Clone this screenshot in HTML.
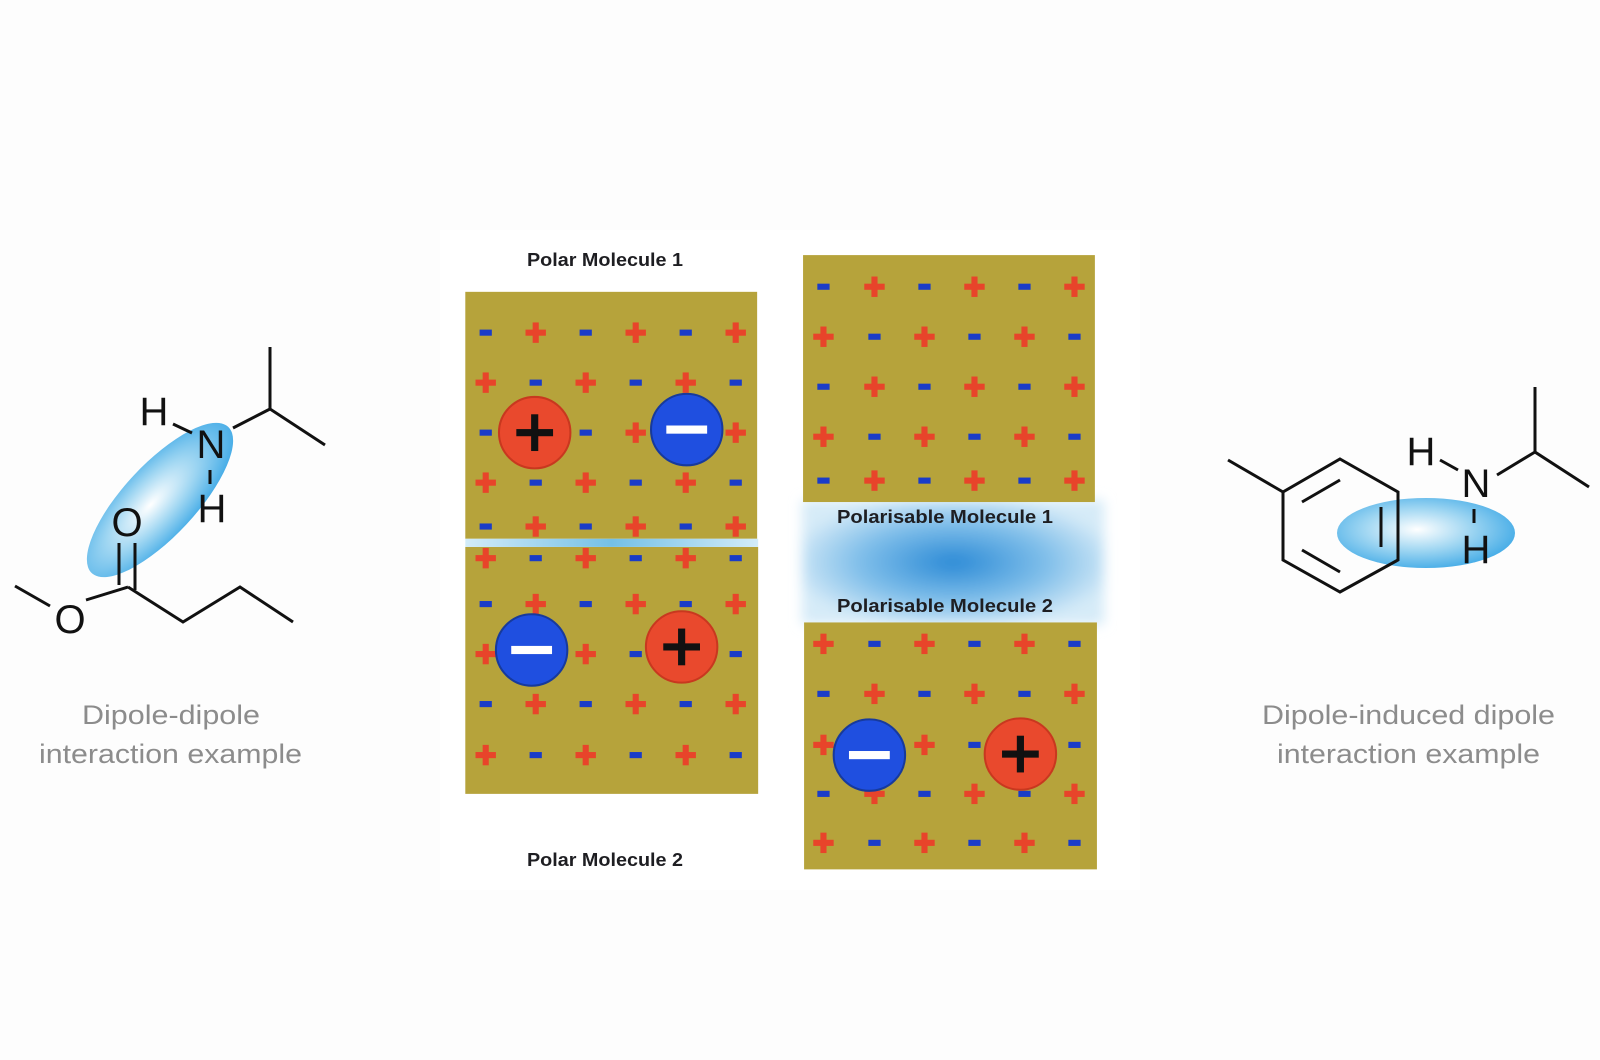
<!DOCTYPE html>
<html><head><meta charset="utf-8"><style>
html,body{margin:0;padding:0;background:#fdfdfd;}
svg{display:block;}
</style></head><body>
<svg width="1600" height="1060" viewBox="0 0 1600 1060" xmlns="http://www.w3.org/2000/svg">
<defs>
  <g id="p"><rect x="-10" y="-3" width="20" height="6" fill="#e8442a"/><rect x="-3" y="-10" width="6" height="20" fill="#e8442a"/></g>
  <g id="m"><rect x="-6" y="-3" width="12" height="6" fill="#1a3cc8"/></g>
  <g id="BP"><circle r="35" fill="#e9492d" stroke="#c8381f" stroke-width="2"/><rect x="-18" y="-3.5" width="36" height="7" fill="#111"/><rect x="-3.5" y="-18" width="7" height="36" fill="#111"/></g>
  <g id="BM"><circle r="35" fill="#1f4fe0" stroke="#173a9c" stroke-width="2"/><rect x="-20" y="-4" width="40" height="8" fill="#fff"/></g>
  <radialGradient id="glow" cx="0.5" cy="0.5" r="0.55">
    <stop offset="0" stop-color="#2b8ad6"/>
    <stop offset="0.55" stop-color="#7dbde9"/>
    <stop offset="1" stop-color="#d6ebf8"/>
  </radialGradient>
  <linearGradient id="line" x1="0" x2="1">
    <stop offset="0" stop-color="#d3ecf8"/><stop offset="0.5" stop-color="#74c0e6"/><stop offset="1" stop-color="#d3ecf8"/>
  </linearGradient>
  <radialGradient id="ell" cx="0.45" cy="0.45" r="0.6">
    <stop offset="0" stop-color="#ffffff"/>
    <stop offset="0.5" stop-color="#9fd6f2"/>
    <stop offset="1" stop-color="#3fa9e6"/>
  </radialGradient>
  <filter id="blur" x="-20%" y="-40%" width="140%" height="180%"><feGaussianBlur stdDeviation="6"/></filter>
</defs>
<rect width="1600" height="1060" fill="#fdfdfd"/>
<rect x="440" y="230" width="700" height="660" fill="#ffffff"/>

<g transform="scale(1.0204)">
  <rect x="786" y="490" width="296" height="122" fill="url(#glow)" filter="url(#blur)"/>
  <rect x="456" y="286" width="286" height="242" fill="#b6a33b"/>
  <rect x="456" y="536" width="287" height="242" fill="#b6a33b"/>
  <rect x="456" y="528" width="287" height="8" fill="url(#line)"/>
  <rect x="787" y="250" width="286" height="242" fill="#b6a33b"/>
  <rect x="788" y="610" width="287" height="242" fill="#b6a33b"/>

  <use href="#m" x="476" y="326"/><use href="#p" x="525" y="326"/><use href="#m" x="574" y="326"/><use href="#p" x="623" y="326"/><use href="#m" x="672" y="326"/><use href="#p" x="721" y="326"/>
  <use href="#p" x="476" y="375"/><use href="#m" x="525" y="375"/><use href="#p" x="574" y="375"/><use href="#m" x="623" y="375"/><use href="#p" x="672" y="375"/><use href="#m" x="721" y="375"/>
  <use href="#m" x="476" y="424"/><use href="#m" x="574" y="424"/><use href="#p" x="623" y="424"/><use href="#p" x="721" y="424"/>
  <use href="#p" x="476" y="473"/><use href="#m" x="525" y="473"/><use href="#p" x="574" y="473"/><use href="#m" x="623" y="473"/><use href="#p" x="672" y="473"/><use href="#m" x="721" y="473"/>
  <use href="#m" x="476" y="516"/><use href="#p" x="525" y="516"/><use href="#m" x="574" y="516"/><use href="#p" x="623" y="516"/><use href="#m" x="672" y="516"/><use href="#p" x="721" y="516"/>
  <use href="#BP" x="524" y="424"/><use href="#BM" x="673" y="421"/>

  <use href="#p" x="476" y="547"/><use href="#m" x="525" y="547"/><use href="#p" x="574" y="547"/><use href="#m" x="623" y="547"/><use href="#p" x="672" y="547"/><use href="#m" x="721" y="547"/>
  <use href="#m" x="476" y="592"/><use href="#p" x="525" y="592"/><use href="#m" x="574" y="592"/><use href="#p" x="623" y="592"/><use href="#m" x="672" y="592"/><use href="#p" x="721" y="592"/>
  <use href="#p" x="476" y="641"/><use href="#p" x="574" y="641"/><use href="#m" x="623" y="641"/><use href="#m" x="721" y="641"/>
  <use href="#m" x="476" y="690"/><use href="#p" x="525" y="690"/><use href="#m" x="574" y="690"/><use href="#p" x="623" y="690"/><use href="#m" x="672" y="690"/><use href="#p" x="721" y="690"/>
  <use href="#p" x="476" y="740"/><use href="#m" x="525" y="740"/><use href="#p" x="574" y="740"/><use href="#m" x="623" y="740"/><use href="#p" x="672" y="740"/><use href="#m" x="721" y="740"/>
  <use href="#BM" x="521" y="637"/><use href="#BP" x="668" y="634"/>

  <use href="#m" x="807" y="281"/><use href="#p" x="857" y="281"/><use href="#m" x="906" y="281"/><use href="#p" x="955" y="281"/><use href="#m" x="1004" y="281"/><use href="#p" x="1053" y="281"/>
  <use href="#p" x="807" y="330"/><use href="#m" x="857" y="330"/><use href="#p" x="906" y="330"/><use href="#m" x="955" y="330"/><use href="#p" x="1004" y="330"/><use href="#m" x="1053" y="330"/>
  <use href="#m" x="807" y="379"/><use href="#p" x="857" y="379"/><use href="#m" x="906" y="379"/><use href="#p" x="955" y="379"/><use href="#m" x="1004" y="379"/><use href="#p" x="1053" y="379"/>
  <use href="#p" x="807" y="428"/><use href="#m" x="857" y="428"/><use href="#p" x="906" y="428"/><use href="#m" x="955" y="428"/><use href="#p" x="1004" y="428"/><use href="#m" x="1053" y="428"/>
  <use href="#m" x="807" y="471"/><use href="#p" x="857" y="471"/><use href="#m" x="906" y="471"/><use href="#p" x="955" y="471"/><use href="#m" x="1004" y="471"/><use href="#p" x="1053" y="471"/>

  <use href="#p" x="807" y="631"/><use href="#m" x="857" y="631"/><use href="#p" x="906" y="631"/><use href="#m" x="955" y="631"/><use href="#p" x="1004" y="631"/><use href="#m" x="1053" y="631"/>
  <use href="#m" x="807" y="680"/><use href="#p" x="857" y="680"/><use href="#m" x="906" y="680"/><use href="#p" x="955" y="680"/><use href="#m" x="1004" y="680"/><use href="#p" x="1053" y="680"/>
  <use href="#p" x="807" y="730"/><use href="#p" x="906" y="730"/><use href="#m" x="955" y="730"/><use href="#m" x="1053" y="730"/>
  <use href="#m" x="807" y="778"/><use href="#p" x="857" y="778"/><use href="#m" x="906" y="778"/><use href="#p" x="955" y="778"/><use href="#m" x="1004" y="778"/><use href="#p" x="1053" y="778"/>
  <use href="#p" x="807" y="826"/><use href="#m" x="857" y="826"/><use href="#p" x="906" y="826"/><use href="#m" x="955" y="826"/><use href="#p" x="1004" y="826"/><use href="#m" x="1053" y="826"/>
  <use href="#BM" x="852" y="740"/><use href="#BP" x="1000" y="739"/>
</g>

<g font-family="Liberation Sans, Arial, sans-serif" font-weight="bold" font-size="18" fill="#1e1e22">
  <text x="527" y="266" textLength="156" lengthAdjust="spacingAndGlyphs">Polar Molecule 1</text>
  <text x="527" y="866" textLength="156" lengthAdjust="spacingAndGlyphs">Polar Molecule 2</text>
  <text x="837" y="523" textLength="216" lengthAdjust="spacingAndGlyphs">Polarisable Molecule  1</text>
  <text x="837" y="612" textLength="216" lengthAdjust="spacingAndGlyphs">Polarisable Molecule  2</text>
</g>

<ellipse cx="160" cy="500" rx="100" ry="36" transform="rotate(-47 160 500)" fill="url(#ell)"/>
<g stroke="#111" stroke-width="3" fill="none" stroke-linecap="butt">
  <polyline points="15,586 50,606"/>
  <line x1="86" y1="600" x2="128" y2="587"/>
  <polyline points="128,587 183,622 240,587 293,622"/>
  <line x1="119" y1="543" x2="119" y2="585"/>
  <line x1="135" y1="543" x2="135" y2="590"/>
  <line x1="233" y1="428" x2="270" y2="409"/>
  <polyline points="270,347 270,409 325,445"/>
  <line x1="173" y1="424" x2="192" y2="433"/>
  <line x1="210" y1="470" x2="210" y2="484"/>
</g>
<g font-family="Liberation Sans, Arial, sans-serif" font-size="40" fill="#111" text-anchor="middle">
  <text x="154" y="425">H</text>
  <text x="211" y="458">N</text>
  <text x="212" y="522">H</text>
  <text x="127" y="536">O</text>
  <text x="70" y="633">O</text>
</g>
<g font-family="Liberation Sans, Arial, sans-serif" font-size="27" fill="#8c8c8c">
  <text x="82" y="724" textLength="178" lengthAdjust="spacingAndGlyphs">Dipole-dipole</text>
  <text x="39" y="763" textLength="263" lengthAdjust="spacingAndGlyphs">interaction example</text>
  <text x="1262" y="724" textLength="293" lengthAdjust="spacingAndGlyphs">Dipole-induced dipole</text>
  <text x="1277" y="763" textLength="263" lengthAdjust="spacingAndGlyphs">interaction example</text>
</g>

<ellipse cx="1426" cy="533" rx="89" ry="35" fill="url(#ell)"/>
<g stroke="#111" stroke-width="3" fill="none">
  <polygon points="1340,459 1398,492 1398,560 1340,592 1283,560 1283,492"/>
  <line x1="1283" y1="492" x2="1228" y2="460"/>
  <line x1="1302" y1="502" x2="1340" y2="480"/>
  <line x1="1381" y1="507" x2="1381" y2="547"/>
  <line x1="1302" y1="550" x2="1340" y2="572"/>
  <line x1="1440" y1="460" x2="1458" y2="470"/>
  <line x1="1497" y1="475" x2="1535" y2="452"/>
  <polyline points="1535,387 1535,452 1589,487"/>
  <line x1="1474" y1="509" x2="1474" y2="523"/>
</g>
<g font-family="Liberation Sans, Arial, sans-serif" font-size="40" fill="#111" text-anchor="middle">
  <text x="1421" y="465">H</text>
  <text x="1476" y="497">N</text>
  <text x="1476" y="563">H</text>
</g>
</svg>
</body></html>
